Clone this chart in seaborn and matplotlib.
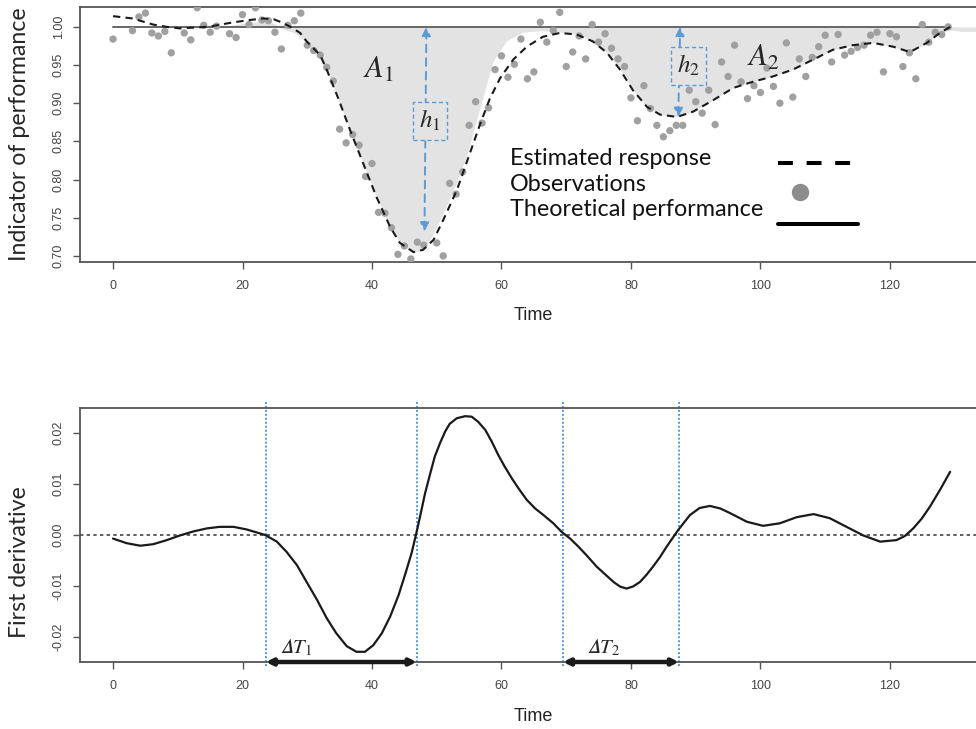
import matplotlib
matplotlib.use('Agg')
import matplotlib.pyplot as plt
import seaborn as sns
from matplotlib.lines import Line2D
from matplotlib.ticker import FormatStrFormatter

# --- data ---

# observations (one per time step, a few are off the top of the panel)
obs_time = [0, 3, 4, 5, 6, 7, 8, 9, 11, 12, 13, 14, 15, 16, 18, 19, 20, 21, 22, 23,
            24, 25, 26, 27, 28, 29, 30, 31, 32, 33, 34, 35, 36, 37, 38, 39, 40, 41, 42, 43,
            44, 45, 46, 47, 48, 50, 51, 52, 53, 54, 55, 56, 57, 58, 59, 60, 61, 62, 63, 64,
            65, 66, 67, 68, 69, 70, 71, 72, 73, 74, 75, 76, 77, 78, 79, 80, 81, 82, 83, 84,
            85, 86, 87, 88, 89, 90, 91, 92, 93, 94, 95, 96, 97, 98, 99, 100, 101, 102, 103, 104,
            105, 106, 107, 108, 109, 110, 111, 112, 113, 114, 115, 116, 117, 118, 119, 120, 121, 122, 123, 124,
            125, 126, 127, 128, 129]
obs_value = [0.984, 0.995, 1.013, 1.018, 0.992, 0.988, 0.994, 0.966, 0.992, 0.983, 1.025, 1.002, 0.993, 1.001, 0.991, 0.986, 1.016, 1.003, 1.025, 1.009,
             1.008, 0.993, 0.971, 1.002, 1.008, 1.018, 0.976, 0.969, 0.963, 0.947, 0.929, 0.866, 0.848, 0.859, 0.845, 0.804, 0.821, 0.757, 0.756, 0.737,
             0.702, 0.713, 0.696, 0.718, 0.714, 0.717, 0.700, 0.795, 0.781, 0.810, 0.871, 0.902, 0.874, 0.894, 0.944, 0.962, 0.934, 0.951, 0.984, 0.932,
             0.941, 1.006, 0.980, 0.995, 1.019, 0.948, 0.967, 0.988, 0.958, 1.003, 0.980, 0.991, 0.972, 0.958, 0.948, 0.907, 0.877, 0.923, 0.893, 0.871,
             0.856, 0.864, 0.871, 0.871, 0.917, 0.902, 0.887, 0.917, 0.872, 0.954, 0.935, 0.976, 0.928, 0.906, 0.923, 0.914, 0.946, 0.922, 0.900, 0.979,
             0.908, 0.958, 0.935, 0.960, 0.974, 0.989, 0.954, 0.990, 0.963, 0.968, 0.973, 0.976, 0.989, 0.993, 0.941, 0.991, 0.987, 0.948, 0.966, 0.932,
             1.003, 0.980, 0.993, 0.990, 1.000]

# estimated response (dashed)
est_time = [0, 3, 6.2, 8.3, 10.3, 12.4, 14.5, 16, 18.6, 21.2, 23.2, 24.8, 26.3, 27.8, 28.9, 29.9,
            32, 33, 34.8, 36.6, 38.6, 40.7, 42.8, 44.3, 46.4, 47.9, 49.5, 51, 53.1, 54.6, 56.8, 58.2,
            59.8, 61.8, 63.9, 66.4, 69, 71.6, 74.1, 76.3, 78.3, 80.3, 82.5, 84.5, 87.1, 89.6, 92.7, 95.8,
            98.8, 101.9, 105, 108.1, 111.2, 114.3, 117.4, 120.5, 123.1, 125.7, 127.7, 129.3]
est_value = [1.014, 1.011, 1.003, 1.000, 0.998, 0.999, 1.000, 1.002, 1.006, 1.009, 1.011, 1.010, 1.005, 0.998, 0.992, 0.981,
             0.963, 0.944, 0.906, 0.865, 0.822, 0.777, 0.738, 0.717, 0.705, 0.708, 0.721, 0.747, 0.786, 0.822, 0.875, 0.906,
             0.933, 0.957, 0.974, 0.987, 0.992, 0.990, 0.981, 0.966, 0.944, 0.917, 0.895, 0.885, 0.882, 0.889, 0.904, 0.920,
             0.928, 0.935, 0.944, 0.957, 0.970, 0.976, 0.979, 0.974, 0.967, 0.979, 0.992, 1.000]

# lower edge of the grey loss area
loss_time = [0, 17, 19, 21, 23, 25, 26, 27, 28, 29, 30, 31.5, 33.2, 34.8, 36.6, 38.6, 40.7, 42.8, 44.3, 46.2,
             47.4, 49, 50.5, 52.6, 54.6, 56.7, 58.7, 60.8, 63.3, 66, 69, 72, 74.1, 76.3, 78.3, 80.3, 82.5, 84.5,
             87.1, 89.6, 92.7, 95.8, 98.8, 101.9, 105, 108.1, 111.2, 114.3, 117.4, 120.5, 123.1, 125.7, 127.7, 129.3, 131, 136]
loss_value = [1.0, 1.0, 1.003, 1.006, 1.007, 1.004, 0.998, 0.995, 0.992, 0.986, 0.978, 0.965, 0.940, 0.904, 0.865, 0.822, 0.777, 0.738, 0.717, 0.705,
              0.706, 0.721, 0.747, 0.786, 0.830, 0.895, 0.955, 0.982, 0.993, 0.995, 0.993, 0.990, 0.981, 0.966, 0.944, 0.917, 0.895, 0.885,
              0.882, 0.889, 0.904, 0.920, 0.928, 0.935, 0.944, 0.957, 0.970, 0.976, 0.979, 0.974, 0.967, 0.979, 0.992, 0.996, 0.994, 0.994]

theo_time = [0, 129.3]
theo_value = [1.0, 1.0]

# first derivative of the estimated response
deriv_time = [0, 2.1, 4.2, 6.2, 8.3, 10.3, 12.4, 14.5, 16.5, 18.6, 20.6, 22.2, 23.5, 25.3, 26.8, 28.4, 29.9, 31.5, 33, 34.5,
              36.1, 37.6, 38.9, 40.2, 41.5, 42.8, 44.1, 45.1, 46.1, 46.8, 47.4, 48.2, 49, 49.7, 50.5, 51.3, 52, 53.1, 54.4, 55.4,
              56.4, 57.5, 58.5, 59.5, 60.5, 61.6, 62.6, 63.9, 65.2, 66.5, 68, 69.3, 70.6, 71.9, 73.3, 74.7, 76, 77.3, 78.3, 79.3,
              80.3, 81.4, 82.4, 83.4, 84.5, 85.5, 87.3, 89.1, 90.6, 92.2, 93.8, 95.3, 97.9, 100.4, 103, 105.6, 108.2, 110.7, 113.3, 115.9,
              118.5, 121, 122.3, 123.6, 124.9, 126.2, 127.8, 129.3]
deriv_value = [-0.0007, -0.0016, -0.0021, -0.0018, -0.0010, -0.0001, 0.0007, 0.0013, 0.0016, 0.0016, 0.0011, 0.0005, 0.0000, -0.0013, -0.0033, -0.0059, -0.0092, -0.0127, -0.0163, -0.0193,
               -0.0218, -0.0229, -0.0229, -0.0216, -0.0193, -0.0160, -0.0118, -0.0078, -0.0036, 0.0001, 0.0035, 0.0082, 0.0121, 0.0154, 0.0180, 0.0203, 0.0218, 0.0229, 0.0233, 0.0232,
               0.0222, 0.0206, 0.0183, 0.0157, 0.0134, 0.0111, 0.0092, 0.0069, 0.0052, 0.0039, 0.0023, 0.0006, -0.0007, -0.0023, -0.0042, -0.0062, -0.0077, -0.0092, -0.0101, -0.0105,
               -0.0101, -0.0092, -0.0078, -0.0062, -0.0043, -0.0023, 0.0010, 0.0039, 0.0053, 0.0057, 0.0052, 0.0043, 0.0026, 0.0018, 0.0023, 0.0035, 0.0041, 0.0033, 0.0016, -0.0001,
               -0.0013, -0.0010, -0.0002, 0.0013, 0.0032, 0.0056, 0.0090, 0.0124]

# zero crossings marking the two disruption periods
cross_time = [23.6, 46.9, 69.5, 87.4]

# depth annotations: arrow time and lower end
h_time = [48.4, 87.6]
h_bottom = [0.732, 0.882]

x_ticks = [0, 20, 40, 60, 80, 100, 120]
top_y_ticks = [0.70, 0.75, 0.80, 0.85, 0.90, 0.95, 1.00]
bot_y_ticks = [-0.02, -0.01, 0.00, 0.01, 0.02]

# --- style ---
sns.set_style('ticks')
plt.rcParams['font.family'] = ['Liberation Sans', 'DejaVu Sans']
plt.rcParams['mathtext.fontset'] = 'stix'
plt.rcParams['axes.unicode_minus'] = False

BLUE = '#5b9bd5'
FILL = '#e3e3e3'
AXCOL = '#555555'

fig = plt.figure(figsize=(9.76, 7.29), dpi=100)
ax1 = fig.add_axes([0.082, 0.6406, 0.928, 0.3498])
ax2 = fig.add_axes([0.082, 0.0919, 0.928, 0.3484])


def style_axes(ax, yticks):
    ax.set_xlim(-5.1, 134.8)
    ax.set_xticks(x_ticks)
    ax.set_yticks(yticks)
    ax.yaxis.set_major_formatter(FormatStrFormatter('%.2f'))
    ax.tick_params(axis='both', length=5, width=1, color=AXCOL, labelsize=9, labelcolor='#444444')
    ax.tick_params(axis='x', pad=8)
    ax.tick_params(axis='y', pad=6)
    for lab in ax.get_yticklabels():
        lab.set_rotation(90)
        lab.set_va('center')
    for sp in ax.spines.values():
        sp.set_visible(True)
        sp.set_color(AXCOL)
        sp.set_linewidth(1.3)
    ax.set_xlabel('Time', fontsize=13, color='#222222')


# --- top panel: performance ---
ax1.fill_between(loss_time, theo_value[0], loss_value, color=FILL, lw=0, zorder=1)
sns.lineplot(x=theo_time, y=theo_value, ax=ax1, color='#666666', lw=1.4, zorder=2)
sns.scatterplot(x=obs_time, y=obs_value, ax=ax1, color='#a0a0a0', s=28, edgecolor='none', zorder=3)
sns.lineplot(x=est_time, y=est_value, ax=ax1, color='#1a1a1a', lw=1.5, ls=(0, (3.5, 2.5)),
             sort=False, estimator=None, zorder=4)
ax1.set_ylim(0.692, 1.026)
style_axes(ax1, top_y_ticks)
ax1.set_ylabel('Indicator of performance', family='Lato', fontsize=16.7)
ax1.yaxis.set_label_coords(-0.055, 0.5)
ax1.xaxis.set_label_coords(0.5, -0.176)

# depth arrows with boxed labels
for t, yb in zip(h_time, h_bottom):
    ax1.annotate('', xy=(t, theo_value[0]), xytext=(t - 0.3, yb),
                 arrowprops=dict(arrowstyle='<|-|>', color=BLUE, lw=1.4, ls=(0, (4, 3)),
                                 mutation_scale=13, shrinkA=0, shrinkB=0), zorder=5)
box_pos = [(48.9, 0.877), (88.9, 0.949)]
for i, (bx, by) in enumerate(box_pos):
    ax1.text(bx, by, f'$h_{i + 1}$', fontsize=18, ha='center', va='center', zorder=6,
             bbox=dict(boxstyle='square,pad=0.25', fc=FILL, ec=BLUE, ls=(0, (3, 2)), lw=1))
ax1.text(40.9, 0.944, '$A_1$', fontsize=22, ha='center', va='center', zorder=6)
ax1.text(100.4, 0.959, '$A_2$', fontsize=22, ha='center', va='center', zorder=6)

# hand-made legend: labels on the left, keys on the right
leg_labels = ['Estimated response', 'Observations', 'Theoretical performance']
leg_y = [0.405, 0.305, 0.205]
for lab, ly in zip(leg_labels, leg_y):
    ax1.text(0.4746, ly, lab, transform=ax1.transAxes, family='Lato', fontsize=16.8,
             ha='left', va='center', color='#111111')
ax1.add_line(Line2D([0.7704, 0.8521], [0.388, 0.388], transform=ax1.transAxes, color='black',
                    lw=2.9, ls=(0, (3.7, 3.4))))
ax1.add_line(Line2D([0.7947], [0.2745], transform=ax1.transAxes, color='#8c8c8c',
                    marker='o', markersize=11.5, ls=''))
ax1.add_line(Line2D([0.7704, 0.8587], [0.149, 0.149], transform=ax1.transAxes, color='black', lw=2.9))

# --- bottom panel: first derivative ---
ax2.axhline(0, color='#444444', lw=1.2, ls=(0, (2, 2)), zorder=1)
sns.lineplot(x=deriv_time, y=deriv_value, ax=ax2, color='#1a1a1a', lw=1.6,
             sort=False, estimator=None, zorder=3)
ax2.set_ylim(-0.0249, 0.0249)
style_axes(ax2, bot_y_ticks)
ax2.set_ylabel('First derivative', family='Lato', fontsize=16.7)
ax2.yaxis.set_label_coords(-0.055, 0.394)
ax2.xaxis.set_label_coords(0.5, -0.181)

for t in cross_time:
    ax2.plot([t, t], [0.0261, -0.0259], color='#3d8bdb', lw=1.3, ls=(0, (1, 1.2)),
             clip_on=False, zorder=2)

for k in range(2):
    t0, t1 = cross_time[2 * k], cross_time[2 * k + 1]
    ax2.annotate('', xy=(t0, -0.0249), xytext=(t1, -0.0249), annotation_clip=False,
                 arrowprops=dict(arrowstyle='<|-|>', color='#1a1a1a', lw=3.2,
                                 mutation_scale=9, shrinkA=0, shrinkB=0), zorder=5)
    ax2.text(t0 + 4.6 + k * 1.6, -0.0221, '$\U0001D6E5T_{%d}$' % (k + 1), fontsize=15,
             ha='center', va='center', zorder=6)

plt.savefig('out.png', dpi=100)
plt.close()
